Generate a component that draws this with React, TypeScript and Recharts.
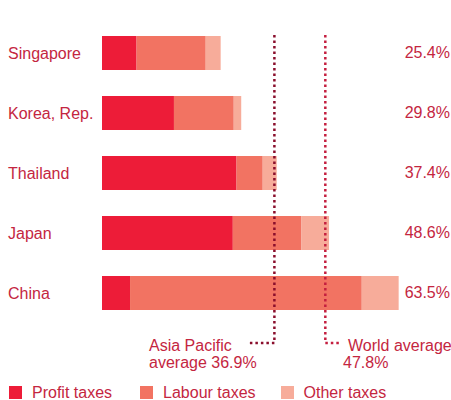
import React from 'react';
import { BarChart, Bar, XAxis, YAxis, ReferenceLine, Legend } from 'recharts';

const countries = ['Singapore', 'Korea, Rep.', 'Thailand', 'Japan', 'China'];
const profitTaxes = [7.4, 15.4, 28.8, 28.0, 6.0];
const labourTaxes = [14.8, 12.8, 5.6, 14.7, 49.6];
const otherTaxes = [3.2, 1.6, 3.0, 5.9, 7.9];
const totalRates = [25.4, 29.8, 37.4, 48.6, 63.5];
const asiaPacificAverage = 36.9;
const worldAverage = 47.8;

const seriesNames = ['Profit taxes', 'Labour taxes', 'Other taxes'];
const seriesColors = ['#ED1C38', '#F27362', '#F7AC9A'];
const legendGaps = [28, 25, 0];

const TEXT_RED = '#C4263F';
const FONT = '"Liberation Sans", Arial, Helvetica, sans-serif';
const W = 451;
const H = 400;
const MARGIN = { top: 23, right: 0, bottom: 77, left: 0 };

const data = countries.map((name, i) => ({
  name,
  profit: profitTaxes[i],
  labour: labourTaxes[i],
  other: otherTaxes[i],
  total: totalRates[i],
}));

// country names, left aligned at the page edge
const CountryTick = ({ y, payload }: any) => (
  <text x={8} y={y} dy={5.5} fill={TEXT_RED} fontSize={16} fontFamily={FONT}>
    {payload.value}
  </text>
);

// total tax rate on the right side
const TotalTick = ({ y, payload }: any) => {
  const idx = countries.indexOf(payload.value);
  return (
    <text x={450} y={y} dy={5} textAnchor="end" fill={TEXT_RED} fontSize={16} fontFamily={FONT}>
      {totalRates[idx].toFixed(1)}%
    </text>
  );
};

// dotted marker line with an elbow down to its label
const AverageMarker = (props: any) => {
  const { x1, y1, y2, color, endX, lines, textX } = props;
  const top = Math.min(y1, y2);
  const bottom = Math.max(y1, y2) + 20;
  return (
    <g>
      <path
        d={`M${x1},${top + 12} V${bottom} H${endX}`}
        fill="none"
        stroke={color}
        strokeWidth={2.5}
        strokeDasharray="2.5 3"
      />
      {lines.map((t: string, i: number) => (
        <text key={i} x={textX[i]} y={bottom + 8 + i * 17} fill={TEXT_RED} fontSize={16} fontFamily={FONT}>
          {t}
        </text>
      ))}
    </g>
  );
};

const renderLegend = () => (
  <div style={{ display: 'flex', fontFamily: FONT, fontSize: 16, lineHeight: '16px', color: TEXT_RED }}>
    {seriesNames.map((n, i) => (
      <div key={n} style={{ display: 'flex', alignItems: 'flex-start', marginRight: legendGaps[i] }}>
        <span style={{ width: 13, height: 13, background: seriesColors[i], marginTop: 1, marginRight: 10 }} />
        <span>{n}</span>
      </div>
    ))}
  </div>
);

export default function App() {
  return (
    <div style={{ position: 'relative', width: W, height: H }}>
      <style>{'body{margin:0}'}</style>
      <div style={{ position: 'absolute', left: 0, top: 0 }}>
        <BarChart width={W} height={H} data={data} layout="vertical" margin={MARGIN}>
          <XAxis type="number" domain={[0, 64]} hide />
          <YAxis
            type="category"
            dataKey="name"
            width={102}
            axisLine={false}
            tickLine={false}
            tick={<CountryTick />}
          />
          <YAxis
            yAxisId="right"
            orientation="right"
            type="category"
            dataKey="name"
            width={50}
            axisLine={false}
            tickLine={false}
            tick={<TotalTick />}
          />
          <Bar dataKey="profit" stackId="a" fill={seriesColors[0]} barSize={34} isAnimationActive={false} />
          <Bar dataKey="labour" stackId="a" fill={seriesColors[1]} barSize={34} isAnimationActive={false} />
          <Bar dataKey="other" stackId="a" fill={seriesColors[2]} barSize={34} isAnimationActive={false} />
          <Legend
            layout="horizontal"
            verticalAlign="middle"
            align="center"
            content={renderLegend}
            wrapperStyle={{ top: 385, left: 9, width: 440 }}
          />
        </BarChart>
      </div>
      {/* overlay with the same scales so the average lines sit above the bars */}
      <div style={{ position: 'absolute', left: 0, top: 0, pointerEvents: 'none' }}>
        <BarChart width={W} height={H} data={data} layout="vertical" margin={MARGIN}>
          <XAxis type="number" domain={[0, 64]} hide />
          <YAxis type="category" dataKey="name" width={102} axisLine={false} tickLine={false} tick={false} />
          <YAxis
            yAxisId="right"
            orientation="right"
            type="category"
            dataKey="name"
            width={50}
            axisLine={false}
            tickLine={false}
            tick={false}
          />
          <Bar dataKey="total" fill="none" fillOpacity={0} barSize={34} isAnimationActive={false} />
          <ReferenceLine
            x={asiaPacificAverage}
            shape={(p: any) => (
              <AverageMarker
                {...p}
                color="#8A0E2C"
                endX={248}
                lines={['Asia Pacific', `average ${asiaPacificAverage}%`]}
                textX={[149, 149]}
              />
            )}
          />
          <ReferenceLine
            x={worldAverage}
            shape={(p: any) => (
              <AverageMarker
                {...p}
                color="#C41E3F"
                endX={340}
                lines={['World average', `${worldAverage}%`]}
                textX={[348, 343]}
              />
            )}
          />
        </BarChart>
      </div>
    </div>
  );
}
